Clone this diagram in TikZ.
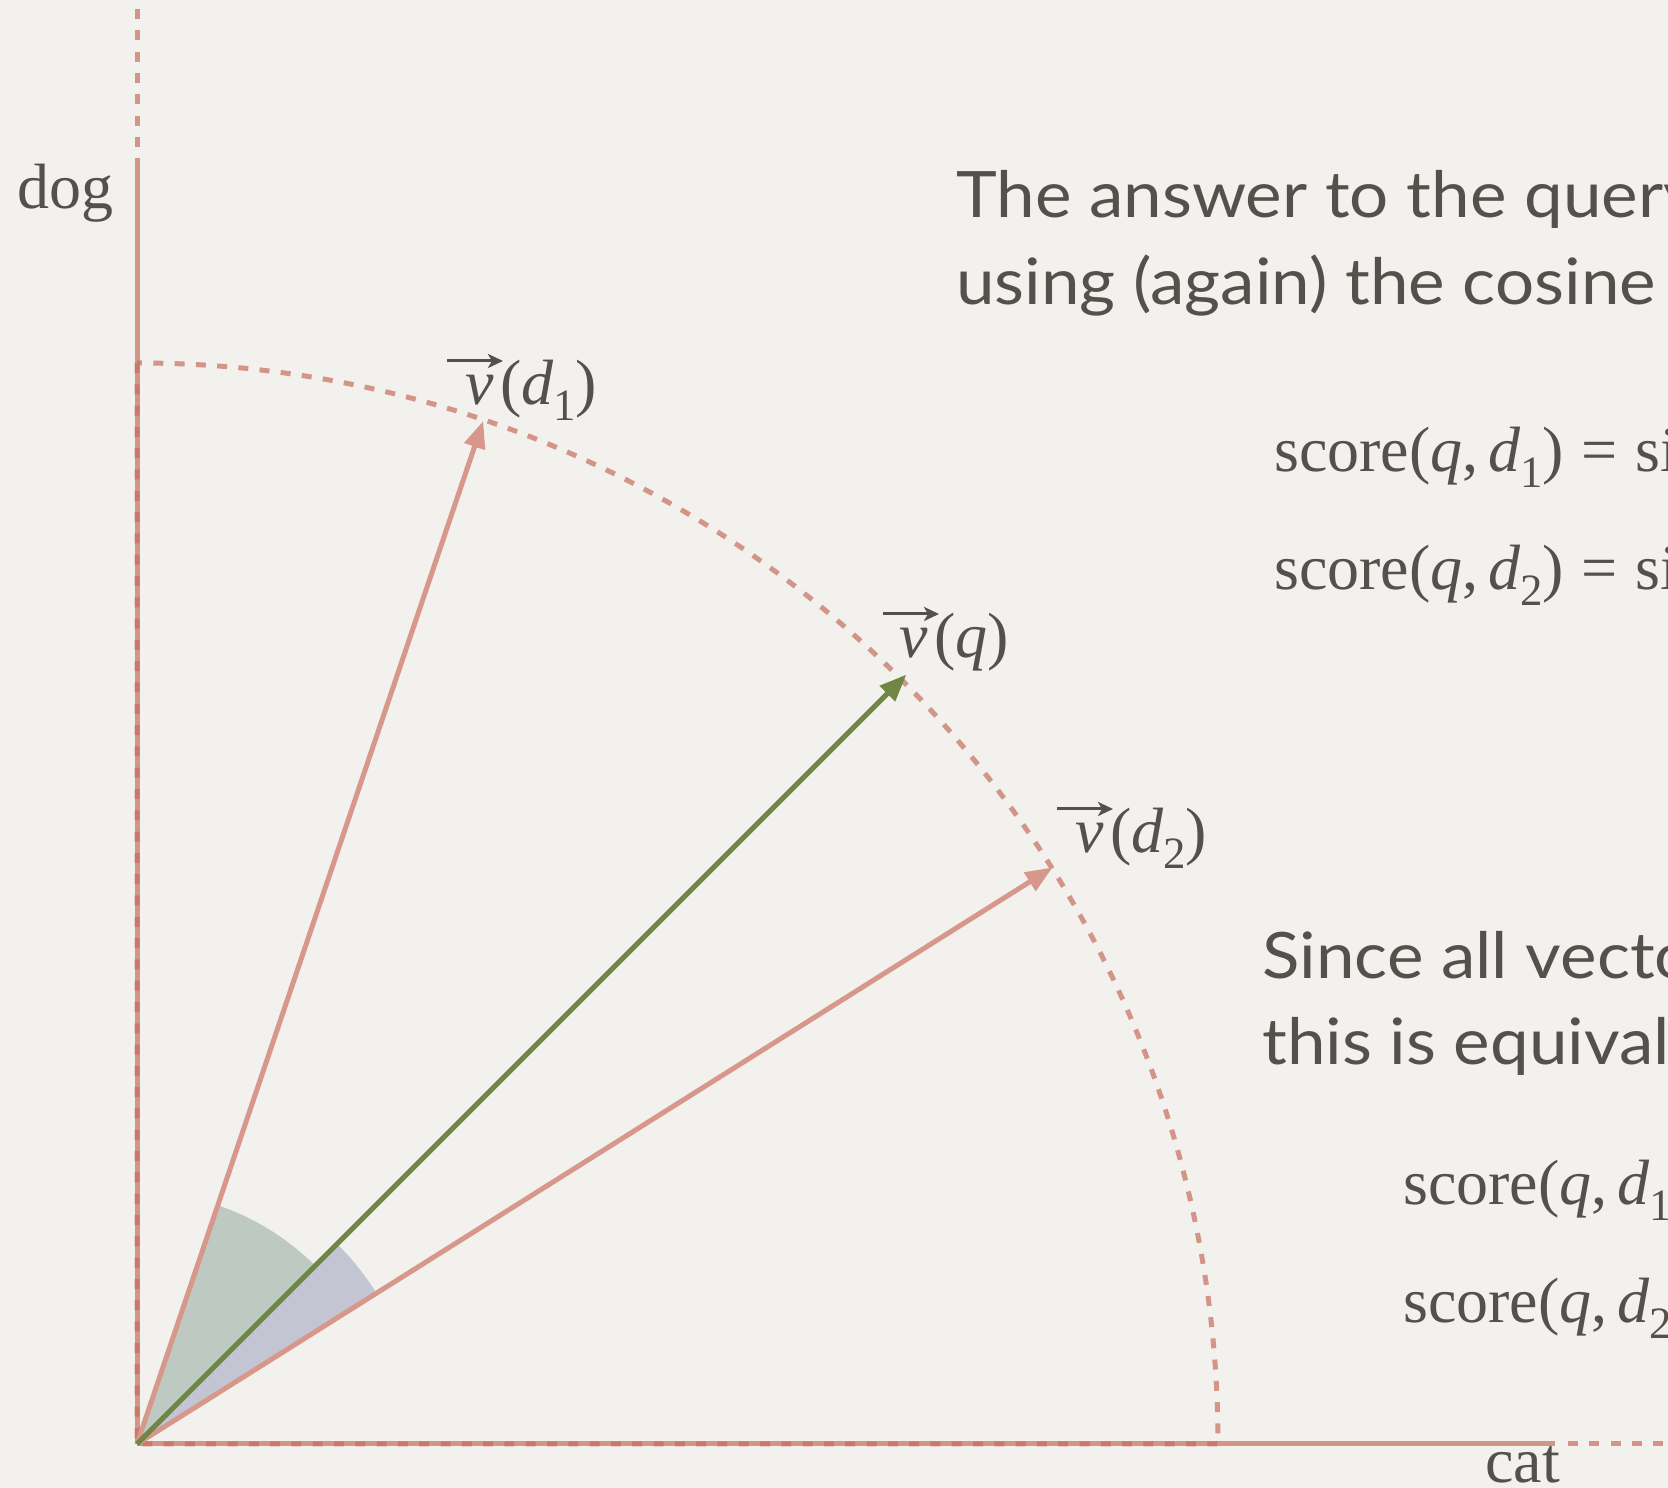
\documentclass[tikz,border=0pt]{standalone}
\usepackage{fontspec}
\usepackage{graphicx}
\setmainfont{Liberation Serif}
\newfontfamily\sansx[FakeStretch=1.08]{Lato}
\usetikzlibrary{arrows.meta}
\definecolor{bgc}{RGB}{242,241,237}
\definecolor{txt}{RGB}{84,81,77}
\definecolor{salm}{RGB}{198,110,92}
\definecolor{vecsal}{RGB}{215,151,138}
\definecolor{qgreen}{RGB}{112,134,68}
\definecolor{wgreen}{RGB}{190,202,193}
\definecolor{wblue}{RGB}{195,197,210}
\newcommand\sbs[1]{\raisebox{-0.24em}{\scalebox{0.7}{#1}}}
\begin{document}
\begin{tikzpicture}[x=1pt,y=1pt,
  axis/.style={draw=salm, draw opacity=0.7, line width=5pt},
  axdash/.style={axis, dash pattern=on 10pt off 11.3pt},
  vecd/.style={draw=vecsal, line width=5pt, -{Triangle[length=27pt,width=21pt]}},
  vecq/.style={draw=qgreen, line width=5pt, -{Triangle[length=27pt,width=21pt]}},
  serif/.style={text=txt, font=\fontsize{64}{70}\selectfont, inner sep=0pt},
  sans/.style={text=txt, font=\sansx\fontsize{64}{80}\selectfont, inner sep=0pt, anchor=base west},
  varrow/.style={draw=txt, line width=3pt, -{Stealth[length=15pt,width=14pt,inset=4pt]}}
]
\useasboundingbox (0,0) rectangle (1668,1488);
\clip (0,0) rectangle (1668,1488);
\fill[bgc] (0,0) rectangle (1668,1488);

\coordinate (O) at (137,44);
\coordinate (Ysol) at (137,1330);
\coordinate (Ydb) at (137,1341);
\coordinate (Ydt) at (137,1495);
\coordinate (Xsol) at (1555,44);
\coordinate (Xdb) at (1568,44);
\coordinate (Xdt) at (1680,44);
\coordinate (Ytop) at (137,1125);
\coordinate (Xr) at (1218,44);
\coordinate (D1) at ([shift={(71.3:1080)}]O);
\coordinate (Q) at ([shift={(45:1088)}]O);
\coordinate (D2) at ([shift={(32.2:1082)}]O);

% wedges
\fill[wgreen] (O) -- ([shift={(45:252)}]O) arc[start angle=45,end angle=71.3,radius=252] -- cycle;
\fill[wblue] (O) -- ([shift={(32.2:283)}]O) arc[start angle=32.2,end angle=45,radius=283] -- cycle;

% axes
\draw[axis] (O) -- (Ysol);
\draw[axis] (O) -- (Xsol);
\draw[axdash] (Ydb) -- (Ydt);
\draw[axdash] (Xdb) -- (Xdt);
\draw[axdash] (Ytop) -- (O) -- (Xr) arc[start angle=0,end angle=90,radius=1081];

% vectors
\draw[vecd] (O) -- (D1);
\draw[vecd] (O) -- (D2);
\draw[vecq] (O) -- (Q);

% axis labels
\node[serif, anchor=base east] (dog) at (114,1279) {dog};
\node[serif, anchor=base east] (cat) at (1560,5) {cat};

% vector labels
\node[serif, anchor=base west] (l1) at (447,1083) {\kern18pt\textit{v}\kern0.1em(\textit{d}\sbs{1})};
\draw[varrow] ([yshift=44pt]l1.base west) -- ++(56,0);
\node[serif, anchor=base west] (lq) at (883,830) {\kern16pt\textit{v}\kern0.1em(\textit{q})};
\draw[varrow] ([yshift=44pt]lq.base west) -- ++(56,0);
\node[serif, anchor=base west] (l2) at (1057,635) {\kern18pt\textit{v}\kern0.1em(\textit{d}\sbs{2})};
\draw[varrow] ([yshift=44pt]l2.base west) -- ++(56,0);

% text blocks
\node[sans] (t1) at (956,1270) {The answer to the query};
\node[sans] (t2) at (956,1183) {using (again) the cosine};
\node[serif, anchor=base west] (e1) at (1274,1016) {score(\textit{q},\kern0.15em\textit{d}\sbs{1})\kern0.28em=\kern0.28em sim};
\node[serif, anchor=base west] (e2) at (1274,898) {score(\textit{q},\kern0.15em\textit{d}\sbs{2})\kern0.28em=\kern0.28em sim};
\node[sans] (t3) at (1262,509) {Since all vectors};
\node[sans] (t4) at (1262,423) {this is equivalent};
\node[serif, anchor=base west] (e3) at (1403,283) {score(\textit{q},\kern0.15em\textit{d}\sbs{1})};
\node[serif, anchor=base west] (e4) at (1403,165) {score(\textit{q},\kern0.15em\textit{d}\sbs{2})};
\end{tikzpicture}
\end{document}
